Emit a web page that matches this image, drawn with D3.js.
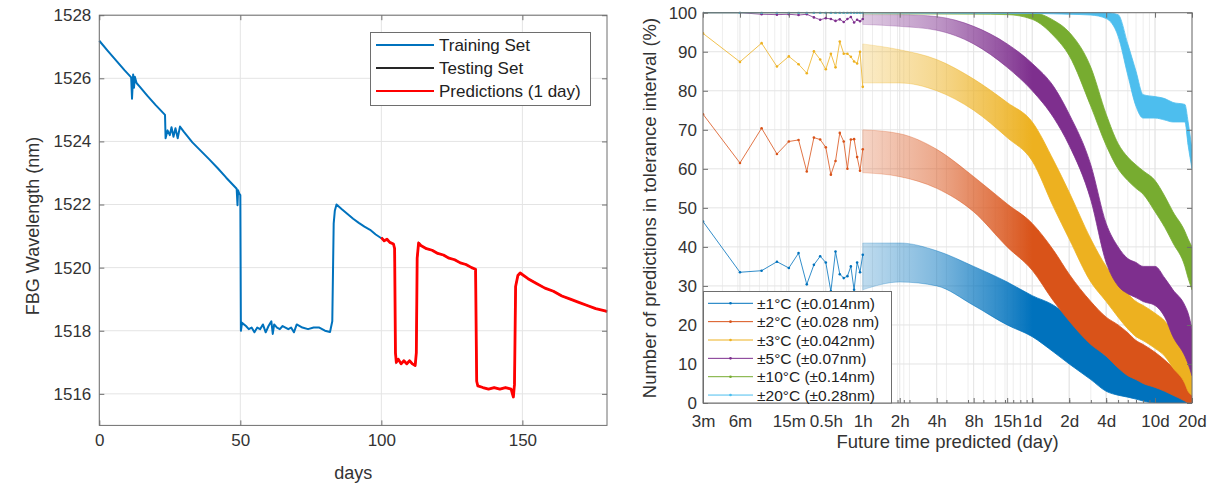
<!DOCTYPE html>
<html>
<head>
<meta charset="utf-8">
<script src="https://cdn.jsdelivr.net/npm/d3@7"></script>
<style>
body { margin: 0; background: #fff; }
svg { display: block; font-family: "Liberation Sans", Arial, Helvetica, sans-serif; }
</style>
</head>
<body>
<svg id="canvas" width="1219" height="486"></svg>
<script>
// ---------- left panel data (days, nm) ----------
let trainDays = [0, 3, 6, 9, 11.3, 11.6, 12.0, 12.3, 12.6, 13.2, 14.4, 17, 20, 23.3, 23.5, 24.2, 25, 25.6, 26.3, 27, 27.8, 28.6, 30, 33, 36, 39, 42, 45, 48.7, 49.0, 49.2, 49.6, 50.0, 50.2, 50.6, 52, 53, 54, 55, 56, 57, 58, 59, 60, 61, 61.5, 62, 63, 64, 65, 66, 67, 68, 69, 70, 72, 74, 76, 78, 80, 81.8, 82.6, 83.1, 83.5, 84.1, 86, 88, 90, 92, 94, 96, 98, 100];
let trainNm = [1527.19, 1526.87, 1526.56, 1526.25, 1526.03, 1525.35, 1526.12, 1525.7, 1526.05, 1525.85, 1525.73, 1525.45, 1525.15, 1524.84, 1524.1, 1524.35, 1524.2, 1524.45, 1524.15, 1524.42, 1524.1, 1524.47, 1524.3, 1523.97, 1523.7, 1523.43, 1523.15, 1522.85, 1522.5, 1521.98, 1522.45, 1522.35, 1522.3, 1518.0, 1518.25, 1518.15, 1518.05, 1518.1, 1517.95, 1518.1, 1518.05, 1518.2, 1517.95, 1518.15, 1518.3, 1517.9, 1518.2, 1518.1, 1518.05, 1518.15, 1518.1, 1518.05, 1518.1, 1517.95, 1518.2, 1518.1, 1518.05, 1518.1, 1518.1, 1518.0, 1517.96, 1518.3, 1521.4, 1521.8, 1522.0, 1521.85, 1521.7, 1521.55, 1521.42, 1521.3, 1521.2, 1521.05, 1520.93];

let predDays = [100, 101, 102, 103, 104.3, 104.7, 105.0, 105.3, 106, 107, 108, 109, 110, 111, 112, 112.4, 112.7, 113.2, 114, 116, 118, 120, 122, 124, 126, 128, 130, 132, 133.4, 133.8, 134.2, 136, 138, 140, 142, 144, 146, 146.8, 147.2, 147.6, 148.4, 149.2, 152, 155, 158, 161, 164, 167, 170, 173, 176, 179.3, 180];
let predNm = [1520.95, 1520.85, 1520.9, 1520.8, 1520.75, 1520.6, 1517.3, 1517.0, 1517.1, 1516.95, 1517.05, 1516.95, 1517.05, 1516.95, 1516.9, 1517.3, 1520.3, 1520.78, 1520.7, 1520.6, 1520.55, 1520.45, 1520.4, 1520.3, 1520.25, 1520.15, 1520.1, 1520.0, 1519.95, 1516.4, 1516.25, 1516.2, 1516.15, 1516.2, 1516.15, 1516.2, 1516.15, 1515.9, 1516.3, 1519.4, 1519.75, 1519.83, 1519.65, 1519.5, 1519.35, 1519.25, 1519.1, 1519.0, 1518.9, 1518.8, 1518.7, 1518.63, 1518.6];
// testing set sits under the predictions in the picture
let testDays = predDays;
let testNm = predNm;

let leftXTicks = [0, 50, 100, 150];
let leftYTicks = [1516, 1518, 1520, 1522, 1524, 1526, 1528];
let leftLegend = ["Training Set", "Testing Set", "Predictions (1 day)"];

// ---------- right panel data ----------
let tickDays = [3/1440, 6/1440, 15/1440, 0.5/24, 1/24, 2/24, 4/24, 8/24, 15/24, 1, 2, 4, 10, 20];
let tickLabels = ["3m", "6m", "15m", "0.5h", "1h", "2h", "4h", "8h", "15h", "1d", "2d", "4d", "10d", "20d"];
let rightYTicks = [0, 10, 20, 30, 40, 50, 60, 70, 80, 90, 100];

let seriesNames = ["±1°C (±0.014nm)", "±2°C (±0.028 nm)", "±3°C (±0.042nm)", "±5°C (±0.07nm)", "±10°C (±0.14nm)", "±20°C (±0.28nm)"];

// first samples, every 3 minutes
let sparseMin = [3, 6, 9, 12, 15, 18, 21, 24, 27, 30, 33, 36, 39, 42, 45, 48, 51, 54, 57, 60];
let sparse1 = [46.5, 33.5, 33.9, 36.2, 34.6, 38.4, 30.4, 35.4, 37.6, 36, 28.6, 38.8, 33, 32, 32.5, 35, 29, 36, 33.5, 38];
let sparse2 = [74, 61.5, 70.4, 63.8, 67, 67.4, 59.3, 68, 67.5, 65.5, 58.5, 62, 69.2, 67, 60, 67.5, 67.6, 63, 59.5, 65];
let sparse3 = [94.7, 87.4, 92.2, 86.2, 88.8, 86.8, 84.5, 90.1, 88, 85.5, 89.5, 86, 92.6, 89.5, 89.5, 88.7, 87.5, 87, 90, 81];
let sparse5 = [100, 100, 99.6, 99.5, 99.6, 99.4, 99.6, 98.8, 98.2, 98.6, 98.4, 97.9, 98.3, 97.6, 98.4, 98.9, 97.5, 98.2, 97.8, 98.4];
let sparse10 = [100, 100, 100, 100, 100, 100, 100, 100, 100, 100, 100, 100, 100, 100, 100, 100, 100, 100, 100, 100];
let sparse20 = [100, 100, 100, 100, 100, 100, 100, 100, 100, 100, 100, 100, 100, 100, 100, 100, 100, 100, 100, 100];

// dense part, read as a band (low / high) per time
let bandDays = [1/24, 2/24, 4/24, 8/24, 15/24, 1, 1.5, 2, 3, 4, 5, 6, 7, 8, 10, 12, 14, 17.5, 18.6, 20];
let lo1 = [29, 31, 30, 25, 20, 17, 13, 10, 6, 3, 2, 1.5, 1, 0.5, 0, 0, 0, 0, 0, 0];
let hi1 = [41, 41, 39, 35, 31, 27.5, 25, 22, 16, 12, 10, 9, 8.5, 8, 7, 6, 5, 3.5, 3, 2];
let lo2 = [59, 58, 55, 49, 40, 34, 26, 21, 15, 12, 9, 7, 6, 5, 4, 3, 2, 0.5, 0, 0];
let hi2 = [70, 69, 65, 58, 51, 46, 39, 33, 26, 22, 20, 18, 16, 15, 13, 11, 9, 6, 5, 3];
let lo3 = [82, 82, 80, 75, 68, 62, 50, 42, 31, 26, 22, 19, 17, 16, 14, 12, 9, 5, 3, 2];
let hi3 = [92, 90.5, 88, 83, 77, 72, 62, 54, 42, 35, 31, 28, 26, 25, 23, 21, 18, 12, 10, 7];
let lo5 = [97, 96.5, 95.5, 92, 86, 80, 73, 66, 52, 36, 30, 28, 27, 26, 25, 22, 17, 12, 10, 7];
let hi5 = [99.5, 99.5, 99, 96.5, 92, 87, 81, 74, 61, 46, 40, 37, 36, 35, 35, 32, 29, 25, 23, 19];
let lo10 = [99.6, 99.6, 99.6, 99.6, 99.5, 98.3, 94, 89, 76, 66, 60, 57, 55, 53.5, 49, 45, 41, 35, 32, 29];
let hi10 = [100, 100, 100, 100, 100, 100, 98, 95, 86, 74, 66.5, 63, 61, 59.5, 57, 53, 49, 44, 42, 40];
let lo20 = [99.8, 99.8, 99.8, 99.8, 99.8, 99.8, 99.7, 99.6, 99.4, 98.5, 94, 84, 76, 73, 73, 72.5, 72, 72, 66, 60];
let hi20 = [100, 100, 100, 100, 100, 100, 100, 100, 100, 100, 99.5, 92, 85, 79, 78.5, 78, 77, 76.5, 72, 65];

let colors = ["#0072BD", "#D95319", "#EDB120", "#7E2F8E", "#77AC30", "#4DBEEE"];
let sparseAll = [sparse1, sparse2, sparse3, sparse5, sparse10, sparse20];
let loAll = [lo1, lo2, lo3, lo5, lo10, lo20];
let hiAll = [hi1, hi2, hi3, hi5, hi10, hi20];

// ---------- setup ----------
let canvas = d3.select("#canvas");
let axisColor = "#6e6e6e";
let gridColor = "#e4e4e4";
let textColor = "#333";

let xL = d3.scaleLinear().domain([0, 180]).range([99.3, 607]);
let yL = d3.scaleLinear().domain([1515, 1528]).range([425.4, 15.2]);

let xR = d3.scaleLog().domain([3/1440, 20]).range([703, 1192]);
let yR = d3.scaleLinear().domain([0, 100]).range([403, 12.7]);

let styleAxis = (g, size) => {
    g.select(".domain").remove();
    g.selectAll("line").attr("stroke", axisColor);
    g.selectAll("text").attr("fill", textColor).style("font-size", size);
};

// ---------- left panel ----------
let drawLeft = () => {
    let [x0, x1] = xL.range();
    let [y0, y1] = yL.range();

    let grid = canvas.append("g");
    grid.selectAll(".gx").data(leftXTicks).enter().append("line")
        .attr("x1", d => xL(d)).attr("x2", d => xL(d)).attr("y1", y0).attr("y2", y1)
        .attr("stroke", gridColor);
    grid.selectAll(".gy").data(leftYTicks).enter().append("line")
        .attr("x1", x0).attr("x2", x1).attr("y1", d => yL(d)).attr("y2", d => yL(d))
        .attr("stroke", gridColor);

    let line = d3.line().x(d => xL(d[0])).y(d => yL(d[1]));
    let plot = canvas.append("g");
    plot.append("path").datum(d3.zip(trainDays, trainNm)).attr("d", line)
        .attr("fill", "none").attr("stroke", "#0072BD").attr("stroke-width", 2).attr("stroke-linejoin", "round");
    plot.append("path").datum(d3.zip(testDays, testNm)).attr("d", line)
        .attr("fill", "none").attr("stroke", "#262626").attr("stroke-width", 1.5);
    plot.append("path").datum(d3.zip(predDays, predNm)).attr("d", line)
        .attr("fill", "none").attr("stroke", "#ff0000").attr("stroke-width", 2.8).attr("stroke-linejoin", "round");

    canvas.append("g").attr("transform", "translate(0," + y0 + ")")
        .call(d3.axisBottom(xL).tickValues(leftXTicks).tickSize(-5).tickPadding(9))
        .call(g => styleAxis(g, "17px"));
    canvas.append("g").attr("transform", "translate(0," + y1 + ")")
        .call(d3.axisTop(xL).tickValues(leftXTicks).tickSize(-5).tickFormat(""))
        .call(g => styleAxis(g, "17px"));
    canvas.append("g").attr("transform", "translate(" + x0 + ",0)")
        .call(d3.axisLeft(yL).tickValues(leftYTicks).tickSize(-5).tickPadding(8).tickFormat(d3.format("d")))
        .call(g => styleAxis(g, "17px"));
    canvas.append("g").attr("transform", "translate(" + x1 + ",0)")
        .call(d3.axisRight(yL).tickValues(leftYTicks).tickSize(-5).tickFormat(""))
        .call(g => styleAxis(g, "17px"));

    canvas.append("rect").attr("x", x0).attr("y", y1).attr("width", x1 - x0).attr("height", y0 - y1)
        .attr("fill", "none").attr("stroke", axisColor);

    canvas.append("text").attr("x", (x0 + x1) / 2).attr("y", 479).attr("text-anchor", "middle")
        .attr("fill", textColor).style("font-size", "18px").text("days");
    canvas.append("text").attr("transform", "translate(39,226) rotate(-90)").attr("text-anchor", "middle")
        .attr("fill", textColor).style("font-size", "18px").text("FBG Wavelength (nm)");

    // legend
    let lg = canvas.append("g");
    lg.append("rect").attr("x", 370.5).attr("y", 32.5).attr("width", 220).attr("height", 73)
        .attr("fill", "#fff").attr("stroke", axisColor);
    let legColors = ["#0072BD", "#262626", "#ff0000"];
    leftLegend.forEach((name, i) => {
        let yy = 45 + i * 23;
        lg.append("line").attr("x1", 376).attr("x2", 434).attr("y1", yy).attr("y2", yy)
            .attr("stroke", legColors[i]).attr("stroke-width", 2);
        lg.append("text").attr("x", 439).attr("y", yy + 6).attr("fill", "#222")
            .style("font-size", "17px").text(name);
    });
};

// ---------- right panel ----------
let drawRight = () => {
    let [x0, x1] = xR.range();
    let [y0, y1] = yR.range();

    let minorDays = [];
    [-3, -2, -1, 0, 1].forEach(e => {
        for (let k = 1; k <= 9; k++) {
            let v = k * Math.pow(10, e);
            if (v > 3/1440 && v < 20) minorDays.push(v);
        }
    });

    let grid = canvas.append("g");
    grid.selectAll(".mx").data(minorDays).enter().append("line")
        .attr("x1", d => xR(d)).attr("x2", d => xR(d)).attr("y1", y0).attr("y2", y1)
        .attr("stroke", "#eeeeee");
    grid.selectAll(".gx").data(tickDays).enter().append("line")
        .attr("x1", d => xR(d)).attr("x2", d => xR(d)).attr("y1", y0).attr("y2", y1)
        .attr("stroke", gridColor);
    grid.selectAll(".gy").data(rightYTicks).enter().append("line")
        .attr("x1", x0).attr("x2", x1).attr("y1", d => yR(d)).attr("y2", d => yR(d))
        .attr("stroke", gridColor);

    canvas.append("clipPath").attr("id", "clipR").append("rect")
        .attr("x", x0).attr("y", y1 - 1).attr("width", x1 - x0).attr("height", y0 - y1 + 1);

    let defs = canvas.append("defs");
    let plot = canvas.append("g").attr("clip-path", "url(#clipR)");
    let area = d3.area().x(d => xR(d[0])).y0(d => yR(d[1])).y1(d => yR(d[2])).curve(d3.curveMonotoneX);
    let line = d3.line().x(d => xR(d[0])).y(d => yR(d[1]));

    // fade the band in from 1h (sparse zig-zag look) to 1d (solid)
    let fadeStops = [[1/24, 0.25], [4/24, 0.5], [15/24, 0.85], [1, 1]];
    let gx0 = xR(1/24), gx1 = xR(1);

    colors.forEach((c, i) => {
        let grad = defs.append("linearGradient").attr("id", "fade" + i)
            .attr("gradientUnits", "userSpaceOnUse")
            .attr("x1", gx0).attr("x2", gx1).attr("y1", 0).attr("y2", 0);
        fadeStops.forEach(s => {
            grad.append("stop").attr("offset", (xR(s[0]) - gx0) / (gx1 - gx0))
                .attr("stop-color", c).attr("stop-opacity", s[1]);
        });

        let band = bandDays.map((t, j) => [t, loAll[i][j], hiAll[i][j]]);
        plot.append("path").datum(band).attr("d", area)
            .attr("fill", "url(#fade" + i + ")").attr("stroke", "url(#fade" + i + ")").attr("stroke-width", 0.8);

        let pts = sparseMin.map((m, j) => [m / 1440, sparseAll[i][j]]);
        plot.append("path").datum(pts).attr("d", line)
            .attr("fill", "none").attr("stroke", c).attr("stroke-width", 1).attr("stroke-opacity", 0.8);
        plot.selectAll(".dot" + i).data(pts).enter().append("circle")
            .attr("cx", d => xR(d[0])).attr("cy", d => yR(d[1])).attr("r", 1.3).attr("fill", c);
    });

    canvas.append("g").attr("transform", "translate(0," + y0 + ")")
        .call(d3.axisBottom(xR).tickValues(minorDays).tickSize(-3).tickFormat(""))
        .call(g => styleAxis(g, "17px"));
    canvas.append("g").attr("transform", "translate(0," + y0 + ")")
        .call(d3.axisBottom(xR).tickValues(tickDays).tickSize(-5).tickPadding(12)
            .tickFormat((d, i) => tickLabels[i]))
        .call(g => styleAxis(g, "17px"));
    canvas.append("g").attr("transform", "translate(0," + y1 + ")")
        .call(d3.axisTop(xR).tickValues(tickDays).tickSize(-5).tickFormat(""))
        .call(g => styleAxis(g, "17px"));
    canvas.append("g").attr("transform", "translate(" + x0 + ",0)")
        .call(d3.axisLeft(yR).tickValues(rightYTicks).tickSize(-5).tickPadding(6))
        .call(g => styleAxis(g, "17px"));
    canvas.append("g").attr("transform", "translate(" + x1 + ",0)")
        .call(d3.axisRight(yR).tickValues(rightYTicks).tickSize(-5).tickFormat(""))
        .call(g => styleAxis(g, "17px"));

    canvas.append("rect").attr("x", x0).attr("y", y1).attr("width", x1 - x0).attr("height", y0 - y1)
        .attr("fill", "none").attr("stroke", axisColor);

    canvas.append("text").attr("x", (x0 + x1) / 2).attr("y", 448).attr("text-anchor", "middle")
        .attr("fill", textColor).style("font-size", "18.5px").text("Future time predicted (day)");
    canvas.append("text").attr("transform", "translate(656,208) rotate(-90)").attr("text-anchor", "middle")
        .attr("fill", textColor).style("font-size", "18.5px").text("Number of predictions in tolerance interval (%)");

    // legend
    let lg = canvas.append("g");
    lg.append("rect").attr("x", 703.5).attr("y", 291.5).attr("width", 188).attr("height", y0 - 291.5)
        .attr("fill", "#fff").attr("stroke", axisColor);
    seriesNames.forEach((name, i) => {
        let yy = 303.3 + i * 18.35;
        lg.append("line").attr("x1", 708).attr("x2", 753).attr("y1", yy).attr("y2", yy)
            .attr("stroke", colors[i]).attr("stroke-width", 1);
        lg.append("circle").attr("cx", 730.5).attr("cy", yy).attr("r", 1.3).attr("fill", colors[i]);
        lg.append("text").attr("x", 757).attr("y", yy + 5.5).attr("fill", "#222")
            .style("font-size", "15.5px").text(name);
    });
};

drawLeft();
drawRight();
</script>
</body>
</html>
